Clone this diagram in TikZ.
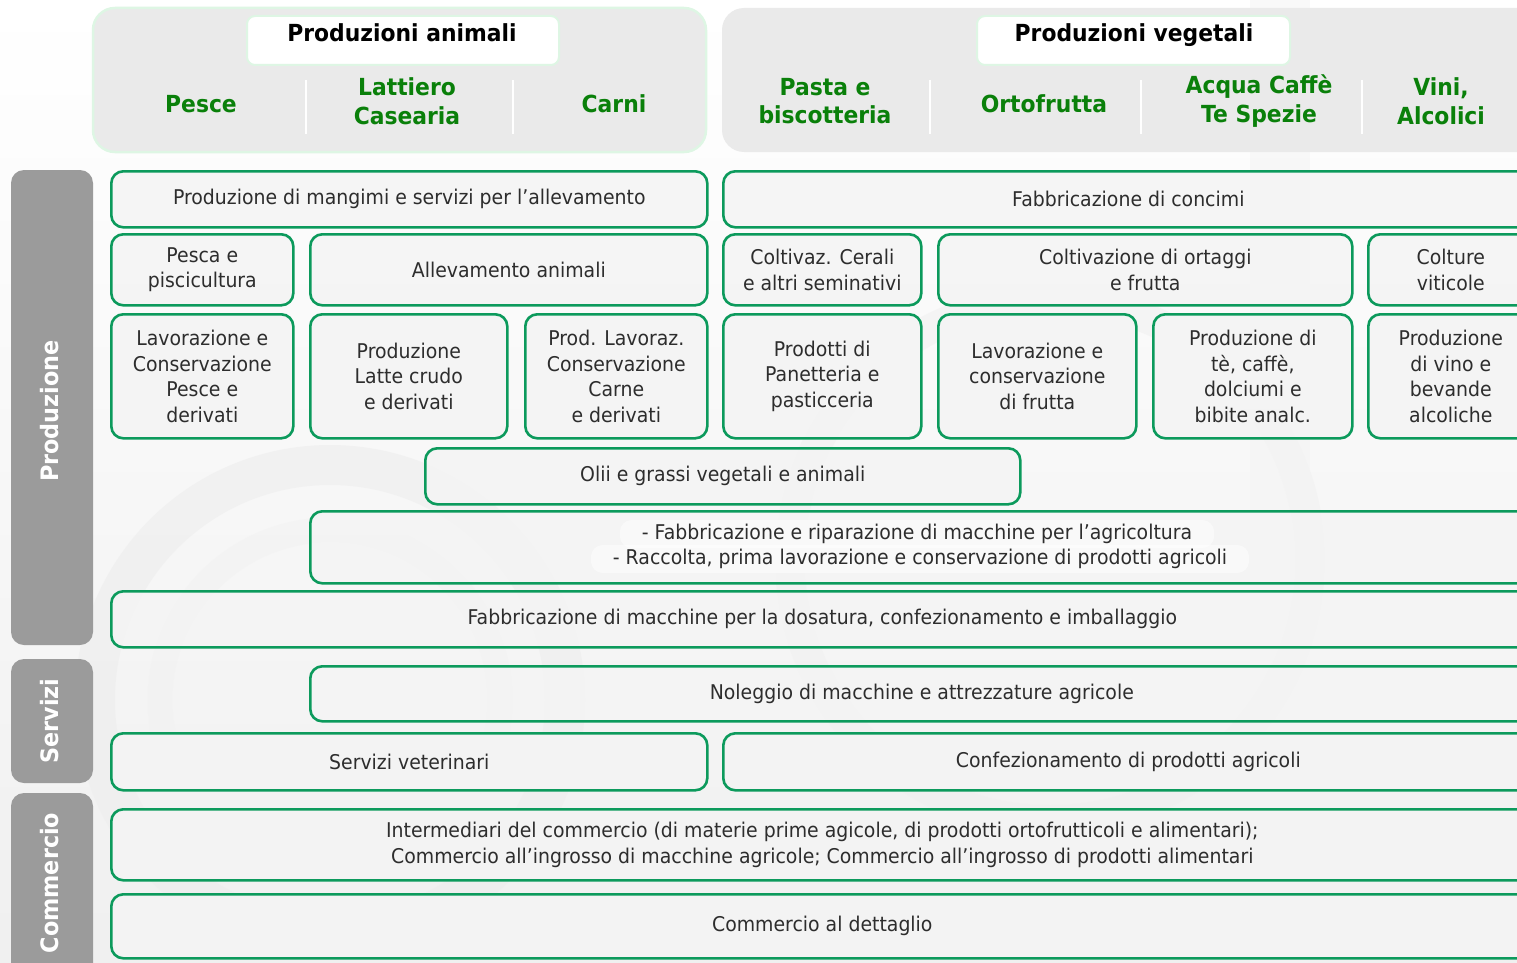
\documentclass[tikz,border=0pt]{standalone}
\usepackage{fontspec}
\setmainfont{DejaVu Sans}[FakeStretch=0.93]
\usetikzlibrary{positioning}
\definecolor{boxgreen}{RGB}{12,154,92}
\definecolor{hdrgreen}{RGB}{10,128,10}
\definecolor{txtgray}{RGB}{45,45,45}
\definecolor{sidegray}{RGB}{155,155,155}
\definecolor{hdrfill}{RGB}{234,234,234}
\definecolor{hdrline}{RGB}{222,246,228}
\definecolor{boxfill}{RGB}{244,244,244}
\tikzset{
  box/.style={draw=boxgreen, line width=2.6pt, rounded corners=12pt, fill=boxfill, fill opacity=0.85, text opacity=1,
    anchor=north west, align=center, text=txtgray, font=\fontsize{20.3}{25.5}\selectfont, inner sep=0pt},
  sidebar/.style={fill=sidegray, rounded corners=13pt},
  sidelabel/.style={text=white, font=\bfseries\fontsize{24}{28}\selectfont, rotate=90},
  hdrpanel/.style={fill=hdrfill, draw=hdrline, line width=2.5pt, rounded corners=22pt},
  hdrtitle/.style={fill=white, draw=hdrline, line width=2pt, rounded corners=8pt, anchor=north west, inner sep=0pt},
  hdrtext/.style={font=\bfseries\fontsize{23.5}{27}\selectfont, anchor=base},
  coltitle/.style={text=hdrgreen, font=\bfseries\fontsize{23.5}{28.5}\selectfont, align=center},
  sep/.style={draw=white, line width=2pt},
  hilite/.style={fill=white, fill opacity=0.5, text opacity=1, rounded corners=12pt, text=txtgray,
    font=\fontsize{20.3}{25.5}\selectfont, inner xsep=22pt, inner ysep=4pt, minimum height=28pt}
}
\begin{document}
\begin{tikzpicture}[x=1pt,y=-1pt]
\useasboundingbox (0,0) rectangle (1517,963);
\begin{scope}
\clip (0,0) rectangle (1517,963);
% faint background decoration
\shade[top color=white, bottom color=gray!12] (0,0) rectangle (1517,963);
\draw[gray!14, line width=40pt, opacity=0.6] (330,700) circle (235);
\draw[gray!10, line width=25pt, opacity=0.6] (330,700) circle (170);
\draw[gray!12, line width=30pt, opacity=0.5] (1050,560) circle (260);
\draw[gray!9, line width=60pt, opacity=0.5] (1280,0) -- (1280,963);

% header panels
\draw[hdrpanel] (93,8) rectangle (706,152);
\draw[hdrpanel, draw=none] (722,8) rectangle (1560,152);
\node[hdrtitle, minimum width=312pt, minimum height=49pt] (ta) at (246,15) {};
\node[hdrtext] (tatext) at (402,42) {Produzioni animali};
\node[hdrtitle, minimum width=313pt, minimum height=49pt] (tv) at (976,15) {};
\node[hdrtext] (tvtext) at (1134,42) {Produzioni vegetali};

\node[coltitle] (cPesce) at (201,104) {Pesce};
\node[coltitle] (cLatt) at (407,101) {Lattiero\\Casearia};
\node[coltitle] (cCarni) at (614,104) {Carni};
\node[coltitle] (cPasta) at (825,101) {Pasta e\\biscotteria};
\node[coltitle] (cOrto) at (1044,104) {Ortofrutta};
\node[coltitle] (cAcqua) at (1259,101) {Acqua Caffè\\Te Spezie};
\node[coltitle] (cVini) at (1441,101) {Vini,\\Alcolici};
\coordinate (s1a) at (306,80); \coordinate (s1b) at (306,134);
\coordinate (s2a) at (513,80); \coordinate (s2b) at (513,134);
\coordinate (s3a) at (930,80); \coordinate (s3b) at (930,134);
\coordinate (s4a) at (1141,80); \coordinate (s4b) at (1141,134);
\coordinate (s5a) at (1362,80); \coordinate (s5b) at (1362,134);
\draw[sep] (s1a) -- (s1b);
\draw[sep] (s2a) -- (s2b);
\draw[sep] (s3a) -- (s3b);
\draw[sep] (s4a) -- (s4b);
\draw[sep] (s5a) -- (s5b);

% side bars
\fill[sidebar] (11,170) rectangle (93,645);
\node[sidelabel] (lProd) at (50,411) {Produzione};
\fill[sidebar] (11,659) rectangle (93,783);
\node[sidelabel] (lServ) at (50,721) {Servizi};
\fill[sidebar] (11,793) rectangle (93,990);
\node[sidelabel] (lComm) at (50,883) {Commercio};

% row 1
\node[box, minimum width=596pt, minimum height=56pt] (mangimi) at (110,170) {Produzione di mangimi e servizi per l’allevamento};
\node[box, minimum width=810pt, minimum height=56pt] (concimi) at (722,170) {Fabbricazione di concimi};
% row 2
\node[box, minimum width=182pt, minimum height=71pt] (pesca) at (110,233) {Pesca e\\piscicultura};
\node[box, minimum width=397pt, minimum height=71pt] (allev) at (309,233) {Allevamento animali};
\node[box, minimum width=198pt, minimum height=71pt] (cerali) at (722,233) {Coltivaz. Cerali\\e altri seminativi};
\node[box, minimum width=414pt, minimum height=71pt] (ortaggi) at (937,233) {Coltivazione di ortaggi\\e frutta};
\node[box, minimum width=165pt, minimum height=71pt] (viticole) at (1367,233) {Colture\\viticole};
% row 3
\node[box, minimum width=182pt, minimum height=124pt] (lavpesce) at (110,313) {Lavorazione e\\Conservazione\\Pesce e\\derivati};
\node[box, minimum width=197pt, minimum height=124pt] (latte) at (309,313) {Produzione\\Latte crudo\\e derivati};
\node[box, minimum width=182pt, minimum height=124pt] (carne) at (524,313) {Prod. Lavoraz.\\Conservazione\\Carne\\e derivati};
\node[box, minimum width=198pt, minimum height=124pt] (panett) at (722,313) {Prodotti di\\Panetteria e\\pasticceria};
\node[box, minimum width=198pt, minimum height=124pt] (frutta) at (937,313) {Lavorazione e\\conservazione\\di frutta};
\node[box, minimum width=199pt, minimum height=124pt] (te) at (1152,313) {Produzione di\\tè, caffè,\\dolciumi e\\bibite analc.};
\node[box, minimum width=165pt, minimum height=124pt] (vino) at (1367,313) {Produzione\\di vino e\\bevande\\alcoliche};
% row 4
\node[box, minimum width=595pt, minimum height=56pt] (olii) at (424,447) {Olii e grassi vegetali e animali};
% row 5
\node[box, minimum width=1223pt, minimum height=72pt] (fabrip) at (309,510) {};
\node[hilite] (fabripA) at (917,534) {- Fabbricazione e riparazione di macchine per l’agricoltura};
\node[hilite] (fabripB) at (920,559) {- Raccolta, prima lavorazione e conservazione di prodotti agricoli};
% row 6
\node[box, minimum width=1422pt, minimum height=56pt] (dosatura) at (110,590) {Fabbricazione di macchine per la dosatura, confezionamento e imballaggio};
% servizi
\node[box, minimum width=1223pt, minimum height=55pt] (noleggio) at (309,665) {Noleggio di macchine e attrezzature agricole};
\node[box, minimum width=596pt, minimum height=57pt] (veter) at (110,732) {Servizi veterinari};
\node[box, minimum width=810pt, minimum height=57pt] (confez) at (722,732) {Confezionamento di prodotti agricoli};
% commercio
\node[box, minimum width=1422pt, minimum height=71pt] (interm) at (110,808) {Intermediari del commercio (di materie prime agicole, di prodotti ortofrutticoli e alimentari);\\Commercio all’ingrosso di macchine agricole; Commercio all’ingrosso di prodotti alimentari};
\node[box, minimum width=1422pt, minimum height=64pt] (dettaglio) at (110,893) {Commercio al dettaglio};
\end{scope}
\end{tikzpicture}
\end{document}
